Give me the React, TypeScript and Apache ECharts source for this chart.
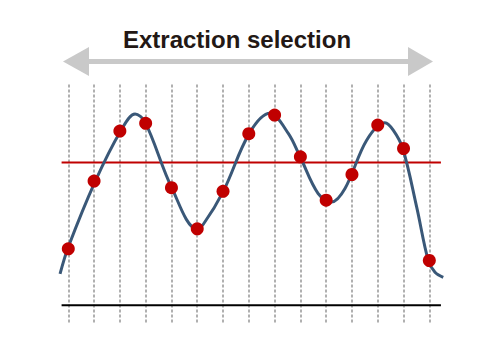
import React, { useEffect, useRef } from "react";
import * as echarts from "echarts";

const title = "Extraction selection";
const sampleX = [0, 1, 2, 3, 4, 5, 6, 7, 8, 9, 10, 11, 12, 13, 14];
const sampleY = [1.98, 4.35, 6.1, 6.37, 4.12, 2.68, 3.99, 6.01, 6.66, 5.2, 3.68, 4.58, 6.31, 5.49, 1.57];
const curveX = [-0.32, 0, 1.035, 2.03, 2.59, 2.97, 4.01, 4.98, 5.23, 6.01, 7.02, 7.82, 8.53, 8.99, 9.69, 10.21, 10.73, 11.57, 12.28, 12.6, 12.97, 13.51, 13.96, 14.22, 14.54];
const curveY = [1.1, 2.04, 4.32, 6.1, 6.7, 6.43, 4.12, 2.68, 2.83, 3.99, 6.02, 6.72, 6.02, 5.2, 3.91, 3.62, 4.09, 5.78, 6.39, 6.13, 5.49, 3.44, 1.57, 1.16, 0.98];
const threshold = 5;
const baseline = 0;
const lineExtent = [-0.26, 14.45];

export default function App() {
  const ref = useRef<HTMLDivElement>(null);
  useEffect(() => {
    if (!ref.current) return;
    const chart = echarts.init(ref.current, null, { renderer: "svg" });
    chart.setOption({
      animation: false,
      backgroundColor: "#ffffff",
      grid: { left: 55.4, right: 35.2, top: 82.5, bottom: 29.5 },
      xAxis: {
        type: "value",
        min: -0.5,
        max: 14.6,
        axisLine: { show: false },
        axisTick: { show: false },
        axisLabel: { show: false },
        splitLine: { show: false },
      },
      yAxis: {
        type: "value",
        min: -0.6,
        max: 7.8,
        axisLine: { show: false },
        axisTick: { show: false },
        axisLabel: { show: false },
        splitLine: { show: false },
      },
      graphic: [
        {
          type: "text",
          x: 237,
          y: 39,
          style: {
            text: title,
            fontFamily: "Liberation Sans",
            fontWeight: "bold",
            fontSize: 24,
            fill: "#231815",
            align: "center",
            verticalAlign: "middle",
          },
        },
        { type: "rect", shape: { x: 85, y: 59, width: 328, height: 5 }, style: { fill: "#c9c9c9" } },
        { type: "polygon", shape: { points: [[63, 61.5], [89, 47], [89, 76]] }, style: { fill: "#c9c9c9" } },
        { type: "polygon", shape: { points: [[433, 61.5], [408, 47], [408, 76]] }, style: { fill: "#c9c9c9" } },
      ],
      series: [
        {
          type: "line",
          data: lineExtent.map((x) => [x, baseline]),
          symbol: "none",
          lineStyle: { color: "#000000", width: 2 },
          z: 1,
          markLine: {
            silent: true,
            z: 0,
            symbol: "none",
            label: { show: false },
            lineStyle: { color: "#b0b0b0", width: 2, type: [3, 2] },
            data: sampleX.map((x) => ({ xAxis: x })),
          },
        },
        {
          type: "line",
          data: lineExtent.map((x) => [x, threshold]),
          symbol: "none",
          lineStyle: { color: "#c00000", width: 2 },
          z: 2,
        },
        {
          type: "line",
          data: curveX.map((x, i) => [x, curveY[i]]),
          symbol: "none",
          smooth: 0.35,
          lineStyle: { color: "#3a5878", width: 3 },
          z: 3,
        },
        {
          type: "scatter",
          data: sampleX.map((x, i) => [x, sampleY[i]]),
          symbolSize: 13,
          itemStyle: { color: "#c00000", opacity: 1 },
          z: 4,
        },
      ],
    });
    return () => chart.dispose();
  }, []);
  return <div ref={ref} style={{ position: "fixed", left: 0, top: 0, width: 480, height: 352 }} />;
}
